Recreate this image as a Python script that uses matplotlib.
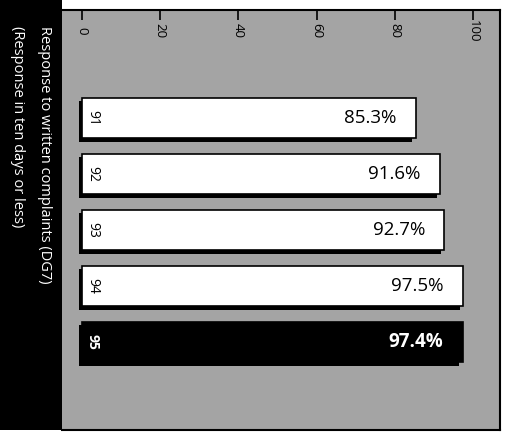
import matplotlib
matplotlib.use("Agg")
import matplotlib.pyplot as plt
import matplotlib.patheffects as pe
from matplotlib.patches import Rectangle

years = ["91", "92", "93", "94", "95"]
values = [85.3, 91.6, 92.7, 97.5, 97.4]
value_labels = ["85.3%", "91.6%", "92.7%", "97.5%", "97.4%"]
ticks = [0, 20, 40, 60, 80, 100]
title = "Response to written complaints (DG7)"
subtitle = "(Response in ten days or less)"

plt.rcParams['font.family'] = ['Open Sans', 'DejaVu Sans']

fig = plt.figure(figsize=(5.1, 4.44), dpi=100)
ax = fig.add_axes([62/510, 1-430/444, (500-62)/510, 420/444])
ax.set_facecolor('#a4a4a4')

# black title band on the left, text turned with the page
fig.add_artist(Rectangle((0, 1-430/444), 62/510, 430/444,
                         transform=fig.transFigure, facecolor='black', edgecolor='none'))
fig.text(44/510, 1-26/444, title, rotation=-90, color='white', fontsize=10.5,
         ha='center', va='top')
fig.text(17/510, 1-26/444, subtitle, rotation=-90, color='white', fontsize=10.5,
         ha='center', va='top')

pos = list(range(len(years)))
colors = ['white'] * 4 + ['black']
bars = ax.barh(pos, values, height=0.72, color=colors, edgecolor='black', linewidth=1.2)
for b in bars:
    b.set_path_effects([pe.SimplePatchShadow(offset=(-2.5, -2.5), shadow_rgbFace='black', alpha=1),
                        pe.Normal()])

for i, (yr, v, lab) in enumerate(zip(years, values, value_labels)):
    c = 'white' if i == 4 else 'black'
    w = 'bold' if i == 4 else 'normal'
    ax.text(2.8, i, yr, rotation=-90, ha='center', va='center', fontsize=10, color=c, fontweight=w)
    ax.text(v - 5.0, i, lab, ha='right', va='center', fontsize=13.5, color=c, fontweight=w)

ax.set_xlim((62-82)/3.91, (500-82)/3.91)
ax.set_ylim(5.57, -1.93)
ax.set_yticks([])
ax.set_xticks(ticks)
ax.set_xticklabels([str(t) for t in ticks])
ax.tick_params(axis='x', top=True, labeltop=True, bottom=False, labelbottom=False,
               direction='in', length=7, width=1.2, pad=-15, labelsize=9.5, labelrotation=-90)
for t in ax.xaxis.get_major_ticks():
    t.label2.set_verticalalignment('center')

for s in ['top', 'right', 'bottom']:
    ax.spines[s].set_linewidth(1.5)
ax.spines['left'].set_visible(False)

fig.savefig("out.png", dpi=100)
